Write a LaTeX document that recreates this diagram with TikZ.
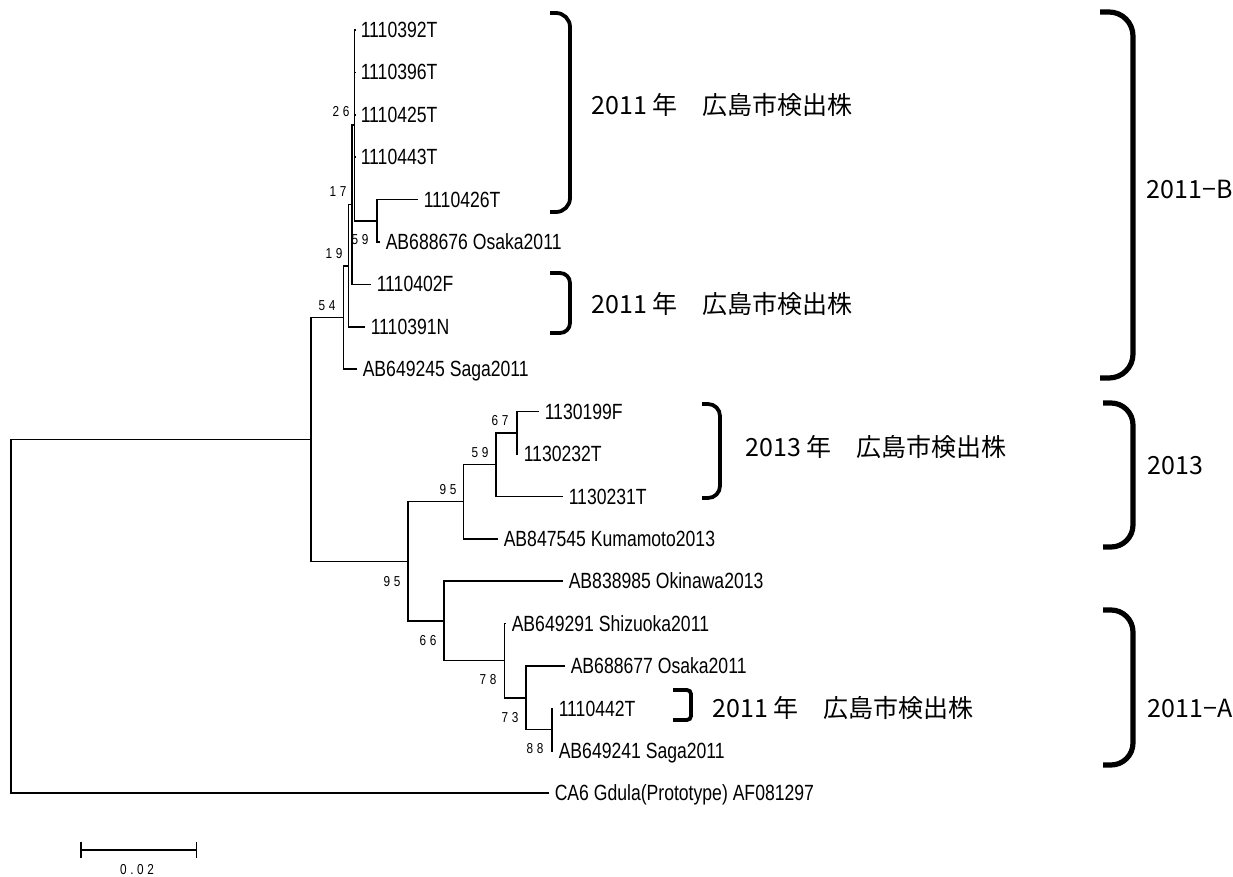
\documentclass[tikz,border=0pt]{standalone}
\usepackage{fontspec}
\setmainfont{Liberation Sans}
\newfontfamily\narrowfont[FakeStretch=0.80]{Liberation Sans}
\newfontfamily\bsfont[FakeStretch=0.82,LetterSpace=25]{Liberation Sans}
\newfontfamily\jpfont{Noto Sans CJK JP}
\usetikzlibrary{arrows.meta}

\begin{document}
\begin{tikzpicture}[x=0.5pt,y=-0.5pt,line width=0.75pt]
\tikzstyle{leaf}=[anchor=west,inner sep=2.5pt,text height=7.6pt,text depth=0pt,font=\narrowfont\fontsize{11}{12}\selectfont]
\tikzstyle{boot}=[inner sep=0pt,font=\bsfont\fontsize{7.2}{8}\selectfont]
\tikzstyle{jp}=[anchor=west,inner sep=0pt,font=\jpfont\fontsize{12.5}{14}\selectfont]
\tikzstyle{brk}=[line width=1.9pt]
\tikzstyle{bigbrk}=[line width=2.6pt]
\useasboundingbox (0,0) rectangle (1233,877);

\node[leaf] (t392) at (355,30) {1110392T};
\node[leaf] (t396) at (355,72.4) {1110396T};
\node[leaf] (t425) at (355,114.8) {1110425T};
\node[leaf] (t443) at (355,157.2) {1110443T};
\node[leaf] (t426) at (418,199.6) {1110426T};
\node[leaf] (osaka676) at (380,242) {AB688676 Osaka2011};
\node[leaf] (t402) at (371,284.4) {1110402F};
\node[leaf] (t391) at (365,326.8) {1110391N};
\node[leaf] (saga245) at (357,369.2) {AB649245 Saga2011};
\node[leaf] (t199) at (539,411.6) {1130199F};
\node[leaf] (t232) at (518,454) {1130232T};
\node[leaf] (t231) at (563,496.4) {1130231T};
\node[leaf] (kuma) at (498,538.8) {AB847545 Kumamoto2013};
\node[leaf] (oki) at (563,581.2) {AB838985 Okinawa2013};
\node[leaf] (shizu) at (506,623.6) {AB649291 Shizuoka2011};
\node[leaf] (osaka677) at (565,666) {AB688677 Osaka2011};
\node[leaf] (t442) at (553,708.4) {1110442T};
\node[leaf] (saga241) at (553,750.8) {AB649241 Saga2011};
\node[leaf] (gdula) at (549,793.2) {CA6 Gdula(Prototype) AF081297};

\coordinate (n26) at (354.5,125);
\coordinate (n59a) at (377,220.8);
\coordinate (n17) at (352,204.7);
\coordinate (n19) at (348.5,265.8);
\coordinate (n54) at (343.5,317.5);
\coordinate (nin) at (311,439.4);
\coordinate (n67) at (517,432.8);
\coordinate (n59b) at (496,464.6);
\coordinate (n95a) at (463.5,501.7);
\coordinate (n88) at (552,729.6);
\coordinate (n73) at (526,697.8);
\coordinate (n78) at (504.5,660.7);
\coordinate (n66) at (444,621);
\coordinate (n95b) at (408,561.3);
\coordinate (root) at (11,616);

\draw (root) |- (nin); \draw (root) |- (gdula);
\draw (nin) |- (n54); \draw (nin) |- (n95b);
\draw (n54) |- (n19); \draw (n54) |- (saga245);
\draw (n19) |- (n17); \draw (n19) |- (t391);
\draw (n17) |- (n26); \draw (n17) |- (t402);
\draw (n26) |- (t392); \draw (n26) |- (t396); \draw (n26) |- (t425);
\draw (n26) |- (t443); \draw (n26) |- (n59a);
\draw (n59a) |- (t426); \draw (n59a) |- (osaka676);
\draw (n95b) |- (n95a); \draw (n95b) |- (n66);
\draw (n95a) |- (n59b); \draw (n95a) |- (kuma);
\draw (n59b) |- (n67); \draw (n59b) |- (t231);
\draw (n67) |- (t199); \draw (n67) |- (t232);
\draw (n66) |- (oki); \draw (n66) |- (n78);
\draw (n78) |- (shizu); \draw (n78) |- (n73);
\draw (n73) |- (osaka677); \draw (n73) |- (n88);
\draw (n88) |- (t442); \draw (n88) |- (saga241);

\node[boot] (b26) at (341,112) {26};
\node[boot] (b17) at (338,192) {17};
\node[boot] (b19) at (334,254) {19};
\node[boot] (b54) at (327,306) {54};
\node[boot] (b59a) at (360,240) {59};
\node[boot] (b67) at (500,421) {67};
\node[boot] (b59b) at (480,453) {59};
\node[boot] (b95a) at (448,490) {95};
\node[boot] (b95b) at (392,582) {95};
\node[boot] (b66) at (428,641) {66};
\node[boot] (b78) at (488,680) {78};
\node[boot] (b73) at (510,718) {73};
\node[boot] (b88) at (535,749) {88};

\draw[brk,rounded corners=7pt] (550,13) -- (570,13) -- (570,212) -- (550,212);
\draw[brk,rounded corners=5pt] (550,273) -- (570,273) -- (570,333) -- (550,333);
\draw[brk,rounded corners=6pt] (702,404) -- (720,404) -- (720,498) -- (702,498);
\draw[brk,rounded corners=2pt] (673,690) -- (691,690) -- (691,720) -- (673,720);
\draw[bigbrk,rounded corners=12pt] (1100,12) -- (1133,12) -- (1133,378) -- (1100,378);
\draw[bigbrk,rounded corners=11pt] (1103,403) -- (1133,403) -- (1133,547) -- (1103,547);
\draw[bigbrk,rounded corners=11pt] (1103,610) -- (1133,610) -- (1133,765) -- (1103,765);

\node[jp] (hir1) at (591,105) {2011 年　広島市検出株};
\node[jp] (hir2) at (591,304) {2011 年　広島市検出株};
\node[jp] (hir3) at (745,447) {2013 年　広島市検出株};
\node[jp] (hir4) at (712,708) {2011 年　広島市検出株};
\node[jp] (g2011b) at (1146,190) {2011−B};
\node[jp] (g2013) at (1147,466) {2013};
\node[jp] (g2011a) at (1147,708) {2011−A};

\coordinate (sbl) at (80,850);
\coordinate (sbr) at (197,850);
\draw[{Bar[width=8pt]}-{Bar[width=8pt]}] (sbl) -- (sbr);
\node[boot] (sbtxt) at (137,870) {0.02};
\end{tikzpicture}
\end{document}
